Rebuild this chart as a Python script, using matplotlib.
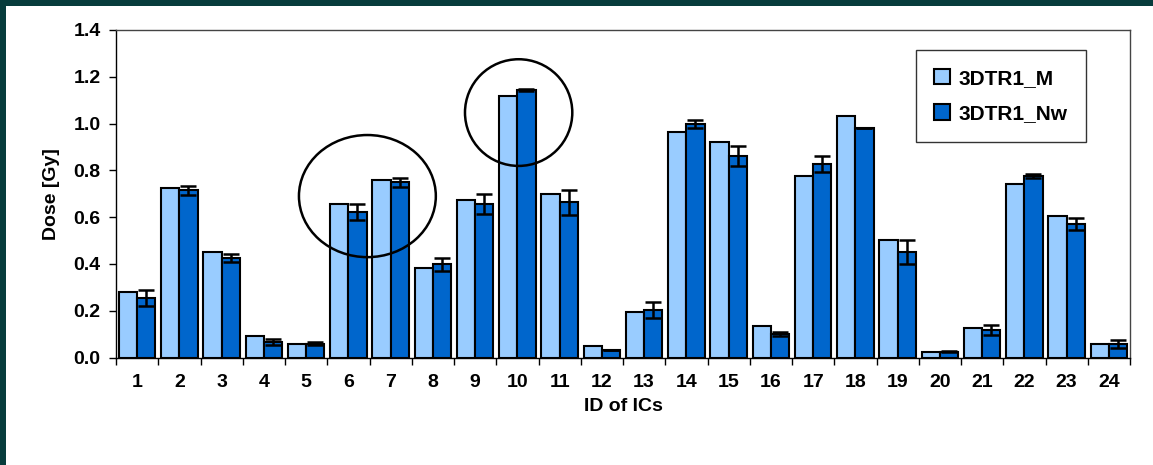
import numpy as np
import matplotlib.pyplot as plt
from matplotlib.patches import Ellipse, Rectangle

# dose per ionisation chamber, two treatment plans
ic_ids = np.arange(1, 25)
dose_m = [0.280, 0.723, 0.451, 0.092, 0.058, 0.656, 0.757, 0.383, 0.673, 1.118,
          0.699, 0.049, 0.195, 0.963, 0.920, 0.136, 0.777, 1.032, 0.502, 0.024,
          0.126, 0.742, 0.606, 0.059]
dose_nw = [0.255, 0.715, 0.425, 0.066, 0.059, 0.621, 0.749, 0.398, 0.656, 1.144,
           0.663, 0.032, 0.203, 0.997, 0.860, 0.100, 0.827, 0.981, 0.450, 0.024,
           0.118, 0.777, 0.571, 0.059]
err_nw = [0.033, 0.020, 0.017, 0.011, 0.007, 0.035, 0.020, 0.027, 0.043, 0.003,
          0.052, 0.002, 0.034, 0.018, 0.043, 0.010, 0.034, 0.002, 0.052, 0.002,
          0.020, 0.009, 0.025, 0.017]

light = '#99ccff'
dark = '#0066cc'
font = ['Liberation Sans', 'DejaVu Sans']

fig = plt.figure(figsize=(11.53, 4.65), dpi=100, facecolor='#073c3c')
fig.patches.append(Rectangle((6 / 1153, 0), 1, 1 - 6 / 465, transform=fig.transFigure,
                             facecolor='white', edgecolor='none', zorder=-10))

ax = fig.add_axes([116 / 1153, (465 - 357.5) / 465, 1014 / 1153, 327.5 / 465])
w = 0.43
ax.bar(ic_ids - w / 2, dose_m, w, color=light, edgecolor='black', linewidth=1.5,
       label='3DTR1_M', zorder=2)
ax.bar(ic_ids + w / 2, dose_nw, w, color=dark, edgecolor='black', linewidth=1.5,
       label='3DTR1_Nw', zorder=2)
ax.errorbar(ic_ids + w / 2, dose_nw, yerr=err_nw, fmt='none', ecolor='black',
            elinewidth=1.8, capsize=6, capthick=1.8, zorder=3)

# highlight rings
ax.add_patch(Ellipse((6.45, 0.690), 3.24, 0.522, fill=False, edgecolor='black',
                     linewidth=1.8, zorder=4, clip_on=False))
ax.add_patch(Ellipse((10.03, 1.047), 2.54, 0.456, fill=False, edgecolor='black',
                     linewidth=1.8, zorder=4, clip_on=False))

ax.set_xlim(0.5, 24.5)
ax.set_ylim(0, 1.4)
ax.set_yticks(np.arange(0, 1.41, 0.2))
ax.set_yticklabels([f'{v:.1f}' for v in np.arange(0, 1.41, 0.2)])
ax.set_xticks(ic_ids)
ax.set_xticklabels([str(i) for i in ic_ids])
ax.set_xticks(np.arange(0.5, 25, 1), minor=True)
ax.tick_params(axis='x', which='major', length=0, pad=12)
ax.tick_params(axis='x', which='minor', length=5, width=1, direction='out')
ax.tick_params(axis='y', length=5, width=1, direction='out', pad=6)
for lab in ax.get_xticklabels() + ax.get_yticklabels():
    lab.set_family(font)
    lab.set_fontweight('bold')
    lab.set_fontsize(14)

for s in ax.spines.values():
    s.set_linewidth(1)
    s.set_color('black')
ax.spines['top'].set_color('#444444')
ax.spines['right'].set_color('#444444')

ax.set_xlabel('ID of ICs', family=font, fontweight='bold', fontsize=14, labelpad=5)
ax.set_ylabel('Dose [Gy]', family=font, fontweight='bold', fontsize=14, labelpad=10)

leg = ax.legend(loc='upper right', bbox_to_anchor=(0.9566, 0.939), frameon=True,
                fancybox=False, handlelength=0.75, handleheight=0.75,
                labelspacing=0.8, borderpad=0.9, handletextpad=0.4, borderaxespad=0,
                prop={'family': font, 'weight': 'bold', 'size': 15})
leg.get_frame().set_edgecolor('black')
leg.get_frame().set_linewidth(1)

fig.savefig('out.png', dpi=100, facecolor=fig.get_facecolor())
